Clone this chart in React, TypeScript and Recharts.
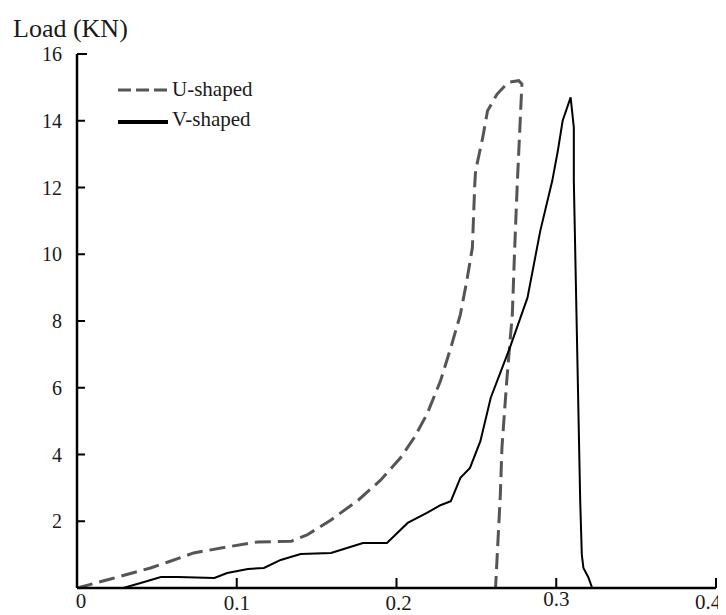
import React from "react";
import { LineChart, Line, XAxis, YAxis, Legend } from "recharts";

// U-shaped specimen (dashed)
const uDisp = [0, 0.021, 0.046, 0.057, 0.073, 0.094, 0.113, 0.134, 0.144, 0.159, 0.176, 0.19, 0.2025, 0.211, 0.219, 0.2275, 0.234, 0.24, 0.244, 0.2475, 0.249, 0.2495, 0.254, 0.257, 0.263, 0.27, 0.2765, 0.2785, 0.2756, 0.274, 0.2725, 0.269, 0.266, 0.265, 0.262];
const uLoad = [0, 0.27, 0.6, 0.78, 1.05, 1.23, 1.38, 1.4, 1.59, 2.04, 2.63, 3.23, 3.9, 4.5, 5.2, 6.2, 7.2, 8.2, 9.2, 10.2, 12.1, 12.5, 13.5, 14.3, 14.8, 15.15, 15.2, 15.1, 12.1, 10.2, 8.2, 6.2, 4.2, 2.8, 0];

// V-shaped specimen (solid)
const vDisp = [0.029, 0.042, 0.0525, 0.063, 0.086, 0.094, 0.107, 0.117, 0.1275, 0.14, 0.159, 0.167, 0.179, 0.194, 0.207, 0.219, 0.2275, 0.234, 0.24, 0.246, 0.2525, 0.259, 0.271, 0.282, 0.29, 0.2975, 0.301, 0.304, 0.309, 0.311, 0.311, 0.315, 0.316, 0.317, 0.32, 0.3225];
const vLoad = [0, 0.18, 0.33, 0.33, 0.3, 0.45, 0.57, 0.6, 0.84, 1.02, 1.05, 1.17, 1.35, 1.35, 1.95, 2.25, 2.48, 2.6, 3.3, 3.6, 4.4, 5.7, 7.2, 8.7, 10.7, 12.2, 13.1, 14.0, 14.7, 13.8, 12.2, 2.6, 1.0, 0.6, 0.33, 0];

const xTicks = [0, 0.1, 0.2, 0.3, 0.4];
const xTickLabels = ["0", "0.1", "0.2", "0.3", "0.4"];
const yTicks = [2, 4, 6, 8, 10, 12, 14, 16];
const yTickLabels = ["2", "4", "6", "8", "10", "12", "14", "16"];

const seriesNames = ["U-shaped", "V-shaped"];
const yAxisTitle = "Load (KN)";

const uData = uDisp.map((x, i) => ({ x, y: uLoad[i] }));
const vData = vDisp.map((x, i) => ({ x, y: vLoad[i] }));

const FONT = "Liberation Serif, Times New Roman, serif";
const TEXT = "#1a1a1a";

// small per-label offsets as in the scanned figure
const xLabelDy = [20, 22, 22, 18, 21];
const xLabelDx = [4, 0, 2, 0, -8];

const XTick = (props: any) => {
  const { x, y, payload, index } = props;
  const i = xTicks.indexOf(payload.value);
  const idx = i >= 0 ? i : index;
  return (
    <g>
      {idx > 0 && (
        <line x1={x} x2={x} y1={y} y2={y - 10} stroke="#000" strokeWidth={2} />
      )}
      <text
        x={x + xLabelDx[idx]}
        y={y + xLabelDy[idx]}
        textAnchor="middle"
        fontFamily={FONT}
        fontSize={21}
        fill={TEXT}
      >
        {xTickLabels[idx]}
      </text>
    </g>
  );
};

const YTick = (props: any) => {
  const { x, y, payload } = props;
  const idx = yTicks.indexOf(payload.value);
  const len = payload.value === 16 ? 10 : 8;
  return (
    <g>
      <line x1={x} x2={x + len} y1={y} y2={y} stroke="#000" strokeWidth={2} />
      <text
        x={x - 15}
        y={y + 7}
        textAnchor="end"
        fontFamily={FONT}
        fontSize={20}
        fill={TEXT}
      >
        {yTickLabels[idx]}
      </text>
    </g>
  );
};

const LegendContent = () => (
  <svg width={220} height={64} style={{ display: "block", overflow: "visible" }}>
    <line x1={0} x2={50} y1={16} y2={16} stroke="#555" strokeWidth={3} strokeDasharray="13 5" />
    <text x={54} y={22} fontFamily={FONT} fontSize={21} fill={TEXT}>
      {seriesNames[0]}
    </text>
    <line x1={0} x2={50} y1={48} y2={48} stroke="#000" strokeWidth={4} />
    <text x={54} y={52} fontFamily={FONT} fontSize={21} fill={TEXT}>
      {seriesNames[1]}
    </text>
  </svg>
);

const YTitle = (props: any) => {
  const vb = props.viewBox || { x: 0, y: 46 };
  return (
    <text x={vb.x + 5} y={vb.y - 17} fontFamily={FONT} fontSize={26} fill={TEXT}>
      {yAxisTitle}
    </text>
  );
};

export default function App() {
  return (
    <div style={{ width: 718, height: 607, background: "#fff" }}>
      <LineChart
        width={718}
        height={607}
        margin={{ top: 46, right: 10, bottom: 0, left: 0 }}
      >
        <XAxis
          type="number"
          dataKey="x"
          domain={[0, 0.4]}
          ticks={xTicks}
          interval={0}
          height={27}
          tickSize={0}
          tickMargin={0}
          tickLine={false}
          tick={<XTick />}
          axisLine={{ stroke: "#000", strokeWidth: 2.5 }}
          allowDataOverflow
        />
        <YAxis
          type="number"
          dataKey="y"
          domain={[0, 16]}
          ticks={yTicks}
          interval={0}
          width={69}
          tickSize={0}
          tickMargin={0}
          tickLine={false}
          tick={<YTick />}
          axisLine={{ stroke: "#000", strokeWidth: 2.5 }}
          label={<YTitle />}
          allowDataOverflow
        />
        <Legend
          layout="vertical"
          align="center"
          verticalAlign="middle"
          content={<LegendContent />}
          wrapperStyle={{ position: "absolute", left: 110, top: 66, width: 220, height: 64 }}
        />
        <Line
          data={uData}
          dataKey="y"
          name={seriesNames[0]}
          type="linear"
          stroke="#555"
          strokeWidth={3}
          strokeDasharray="16 7"
          dot={false}
          activeDot={false}
          isAnimationActive={false}
        />
        <Line
          data={vData}
          dataKey="y"
          name={seriesNames[1]}
          type="linear"
          stroke="#000"
          strokeWidth={2}
          dot={false}
          activeDot={false}
          isAnimationActive={false}
        />
      </LineChart>
    </div>
  );
}
